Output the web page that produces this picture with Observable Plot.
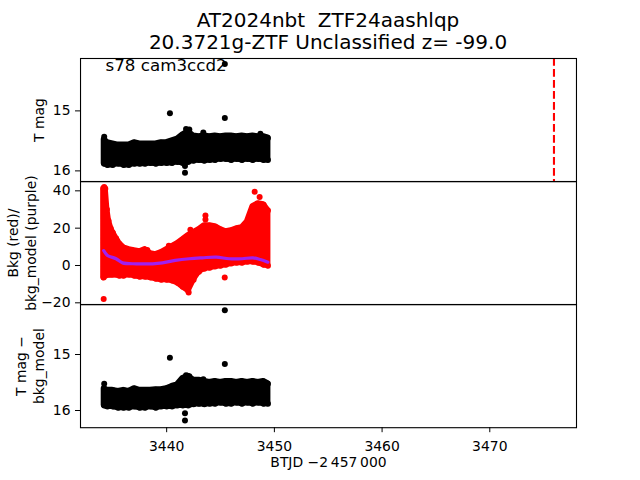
<!DOCTYPE html>
<html>
<head>
<meta charset="utf-8">
<script src="https://cdn.jsdelivr.net/npm/d3@7"></script>
<script src="https://cdn.jsdelivr.net/npm/@observablehq/plot@0.6"></script>
<style>
  html, body { margin: 0; padding: 0; background: white; overflow: hidden; }
  #wrap { position: relative; width: 640px; height: 480px; font-family: "DejaVu Sans", sans-serif; }
  #title { position: absolute; left: 0; top: 9px; width: 656px; text-align: center; font-size: 20px; line-height: 22px; color: black; }
  .panel { position: absolute; left: 0; }
  .panel svg { overflow: visible; background: transparent; }
</style>
</head>
<body>
<div id="wrap">
  <div id="title">AT2024nbt&nbsp;&nbsp;ZTF24aashlqp<br>20.3721g-ZTF Unclassified z= -99.0</div>
  <div id="p1" class="panel" style="top:57.6px"></div>
  <div id="p2" class="panel" style="top:180.8px"></div>
  <div id="p3" class="panel" style="top:304px"></div>
</div>
<script>
// ---- data ----
const xTicks = [3440, 3450, 3460, 3470];
const magTicks = [15, 16];
const bkgTicks = [40, 20, 0, -20];
const sectorLabel = ["s78 cam3ccd2"];
const discoveryT = [3475.96];

// envelope of the dense photometry cloud (times in BTJD - 2457000)
const tGrid = [3434.2, 3434.5, 3435, 3435.5, 3436, 3436.5, 3437, 3437.5, 3438, 3438.5, 3439, 3439.5, 3440, 3440.5, 3441, 3441.5, 3442, 3442.5, 3443, 3443.5, 3444, 3444.5, 3445, 3445.5, 3446, 3446.5, 3447, 3447.5, 3448, 3448.5, 3449, 3449.4];
// top panel: T mag (bright edge / faint edge)
const topHi = [15.48, 15.53, 15.55, 15.57, 15.57, 15.57, 15.53, 15.55, 15.55, 15.55, 15.55, 15.53, 15.53, 15.50, 15.47, 15.40, 15.35, 15.42, 15.43, 15.42, 15.43, 15.42, 15.43, 15.42, 15.42, 15.43, 15.42, 15.43, 15.42, 15.43, 15.43, 15.45];
const topLo = [15.88, 15.90, 15.90, 15.88, 15.90, 15.90, 15.88, 15.88, 15.88, 15.87, 15.88, 15.87, 15.87, 15.87, 15.85, 15.87, 15.85, 15.83, 15.82, 15.83, 15.82, 15.82, 15.80, 15.80, 15.82, 15.80, 15.82, 15.80, 15.82, 15.80, 15.82, 15.82];
const topOutT = [3445.4, 3440.3, 3445.4, 3441.7, 3441.7, 3434.2, 3441.8, 3442.1, 3443.4, 3448.7];
const topOutM = [14.22, 15.04, 15.12, 15.92, 16.03, 15.43, 15.30, 15.31, 15.36, 15.38];

// bottom panel: T mag - bkg_model
const botHi = [15.61, 15.64, 15.64, 15.66, 15.64, 15.66, 15.61, 15.64, 15.64, 15.64, 15.63, 15.63, 15.61, 15.57, 15.54, 15.43, 15.39, 15.46, 15.46, 15.48, 15.50, 15.48, 15.50, 15.48, 15.48, 15.50, 15.48, 15.50, 15.48, 15.50, 15.48, 15.52];
const botLo = [15.91, 15.93, 15.93, 15.95, 15.95, 15.95, 15.93, 15.95, 15.95, 15.93, 15.95, 15.93, 15.93, 15.93, 15.91, 15.91, 15.91, 15.89, 15.88, 15.89, 15.88, 15.88, 15.86, 15.88, 15.88, 15.86, 15.88, 15.86, 15.88, 15.86, 15.88, 15.88];
const botOutT = [3445.4, 3440.3, 3445.4, 3441.7, 3441.7, 3434.2, 3441.8, 3442.1, 3443.4];
const botOutM = [14.21, 15.06, 15.17, 16.05, 16.18, 15.52, 15.37, 15.39, 15.44];

// middle panel: background (red) envelope
const midT = [3434.15, 3434.3, 3434.45, 3434.6, 3434.8, 3435.0, 3435.3, 3435.6, 3436, 3436.5, 3437, 3437.5, 3438, 3438.5, 3439, 3439.5, 3440, 3440.5, 3441, 3441.5, 3442, 3442.5, 3443, 3443.5, 3444, 3444.5, 3445, 3445.5, 3446, 3446.5, 3447, 3447.5, 3448, 3448.5, 3449, 3449.4];
const bkgHi = [41.1, 41.1, 30.0, 24.0, 20.0, 17.5, 14.5, 11.7, 9.5, 8.5, 7.9, 7.4, 8.5, 6.3, 5.8, 6.9, 8.5, 10.1, 11.7, 13.8, 16.0, 17.6, 19.2, 21.3, 21.3, 20.8, 19.2, 18.1, 18.6, 19.7, 20.2, 23.5, 31.5, 33.1, 32.6, 29.4];
const bkgLo = [-6.5, -5.5, -5.0, -4.9, -4.9, -4.9, -4.9, -5.5, -5.5, -4.9, -5.5, -6.0, -6.0, -6.5, -7.1, -7.6, -7.6, -8.1, -9.2, -11.4, -13.5, -7.6, -3.3, -1.7, -1.2, -0.6, -0.1, 0.4, 1.0, 1.5, 1.5, 2.0, 2.0, 1.5, 0.4, -0.1];
const bkgOutT = [3434.15, 3434.2, 3443.6, 3443.6, 3448.17, 3448.63, 3442.04, 3445.39, 3442.2, 3442.85, 3440.2, 3436.35, 3438.2];
const bkgOutV = [-17.9, 42.0, 26.8, 24.6, 39.5, 36.7, -14.5, -6.5, 19.1, 17.7, 10.6, 7.9, 8.3];
// background model (purple)
const modelT = [3434.15, 3434.5, 3435.3, 3435.9, 3437.2, 3438.7, 3439.6, 3440.8, 3442.1, 3443.3, 3444.6, 3445.8, 3447.0, 3448.0, 3448.7, 3449.4];
const modelV = [8.0, 5.4, 3.6, 1.4, 0.9, 0.9, 1.4, 2.7, 3.6, 4.1, 4.5, 3.6, 3.6, 4.1, 3.2, 1.8];

// ---- tables ----
const topEnv = tGrid.map((t, i) => ({t, hi: topHi[i], lo: topLo[i]}));
const botEnv = tGrid.map((t, i) => ({t, hi: botHi[i], lo: botLo[i]}));
const midEnv = midT.map((t, i) => ({t, hi: bkgHi[i], lo: bkgLo[i]}));
const topOut = topOutT.map((t, i) => ({t, m: topOutM[i]}));
const botOut = botOutT.map((t, i) => ({t, m: botOutM[i]}));
const bkgOut = bkgOutT.map((t, i) => ({t, v: bkgOutV[i]}));
const model = modelT.map((t, i) => ({t, v: modelV[i]}));

const X_DOMAIN = [3432.0, 3478.05];
const FONT = {fontFamily: "DejaVu Sans", fontSize: "13.9px", background: "transparent", overflow: "visible"};
const PH = 123.2;
const common = {width: 640, marginLeft: 80, marginRight: 64, style: FONT};

function cloud(env, color) {
  return [
    Plot.areaY(env, {x: "t", y1: "lo", y2: "hi", fill: color, stroke: color, strokeWidth: 6, strokeLinejoin: "round"}),
    Plot.dot(env, {x: "t", y: "hi", r: 3, fill: color}),
    Plot.dot(env, {x: "t", y: "lo", r: 3, fill: color})
  ];
}

const p1 = Plot.plot({
  ...common, height: PH, marginTop: 0, marginBottom: 0,
  x: {domain: X_DOMAIN, axis: null},
  y: {domain: [14.127, 16.18], reverse: true, ticks: magTicks, tickFormat: "d", tickSize: 5, tickPadding: 5, label: null},
  marks: [
    ...cloud(topEnv, "black"),
    Plot.dot(topOut, {x: "t", y: "m", r: 3, fill: "black"}),
    Plot.ruleX(discoveryT, {x: d => d, stroke: "red", strokeWidth: 2.1, strokeDasharray: "7.7,3.3"}),
    Plot.text(sectorLabel, {text: d => d, frameAnchor: "top-left", textAnchor: "start", lineAnchor: "bottom", dx: 25, dy: 13, fontSize: 16.7}),
    Plot.text(["T mag"], {text: d => d, frameAnchor: "left", textAnchor: "middle", dx: -41, rotate: -90, fontSize: 13.9}),
    Plot.frame({stroke: "black", strokeWidth: 1.1})
  ]
});

const p2 = Plot.plot({
  ...common, height: PH, marginTop: 0, marginBottom: 0,
  x: {domain: X_DOMAIN, axis: null},
  y: {domain: [-21, 45], ticks: bkgTicks, tickFormat: "d", tickSize: 5, tickPadding: 5, label: null},
  marks: [
    ...cloud(midEnv, "red"),
    Plot.dot(bkgOut, {x: "t", y: "v", r: 3, fill: "red"}),
    Plot.line(model, {x: "t", y: "v", stroke: "#a020f0", strokeWidth: 3.2, curve: "catmull-rom"}),
    Plot.text(["Bkg (red)/\nbkg_model (purple)"], {text: d => d, frameAnchor: "left", textAnchor: "middle", dx: -59, rotate: -90, fontSize: 13.9, lineHeight: 1.25}),
    Plot.frame({stroke: "black", strokeWidth: 1.1})
  ]
});

const p3 = Plot.plot({
  ...common, height: PH + 52.8, marginTop: 0, marginBottom: 52.8,
  x: {domain: X_DOMAIN, ticks: xTicks, tickFormat: "d", tickSize: 5, tickPadding: 8, label: null},
  y: {domain: [14.107, 16.307], reverse: true, ticks: magTicks, tickFormat: "d", tickSize: 5, tickPadding: 5, label: null},
  marks: [
    ...cloud(botEnv, "black"),
    Plot.dot(botOut, {x: "t", y: "m", r: 3, fill: "black"}),
    Plot.text(["T mag \u2212\nbkg_model"], {text: d => d, frameAnchor: "left", textAnchor: "middle", dx: -51, rotate: -90, fontSize: 13.9, lineHeight: 1.25}),
    Plot.text(["BTJD \u22122\u2009457\u2009000"], {text: d => d, frameAnchor: "bottom", dy: 39, fontSize: 13.9}),
    Plot.frame({stroke: "black", strokeWidth: 1.1})
  ]
});

for (const [id, svg] of [["p1", p1], ["p2", p2], ["p3", p3]]) {
  svg.style.overflow = "visible";
  svg.style.background = "transparent";
  document.getElementById(id).appendChild(svg);
}
</script>
</body>
</html>
